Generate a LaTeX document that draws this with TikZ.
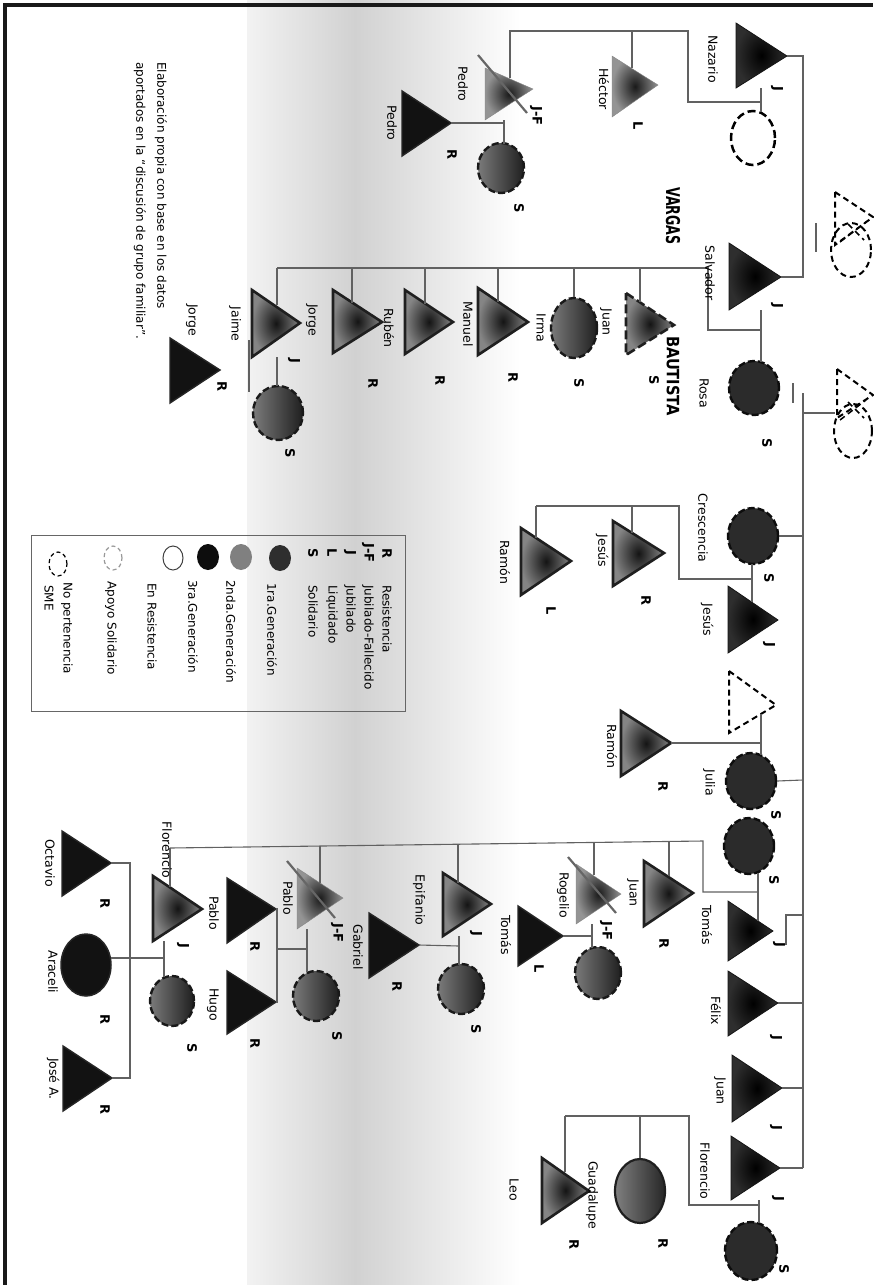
\documentclass[tikz,border=0pt]{standalone}
\usepackage{fontspec}
\usepackage{graphicx}
\setmainfont{DejaVu Sans}
\usetikzlibrary{shapes.geometric}
\begin{document}
\begin{tikzpicture}[x=1pt,y=-1pt,
  lnk/.style={draw=black!62,line width=1.1pt},
  nm/.style={rotate=-90,font=\fontsize{12.5}{13}\selectfont,inner sep=0pt},
  cd/.style={rotate=-90,font=\fontsize{13}{13}\selectfont\bfseries,inner sep=0pt},
  lg/.style={rotate=-90,anchor=west,font=\fontsize{12}{13}\selectfont,inner sep=0pt},
  t1/.style={shading=radial,inner color=black,outer color=black!82,draw=black!92,line width=0.8pt},
  t2/.style={shading=radial,inner color=black!92,outer color=black!48,draw=black!88,line width=2.6pt},
  t3/.style={fill=black!93,draw=black!85,line width=1.4pt},
  tj/.style={shading=radial,inner color=black!90,outer color=black!42,draw=black!48,line width=0.4pt},
  tb/.style={t2,dash pattern=on 9pt off 4pt},
  slash/.style={draw=black!60,line width=2.2pt},
  c1/.style={ellipse,inner sep=0pt,fill=black!83,draw=black!95,line width=2.4pt,dash pattern=on 7pt off 3pt},
  c2/.style={ellipse,inner sep=0pt,left color=black!52,right color=black!88,draw=black!90,line width=2.4pt,dash pattern=on 7pt off 3pt},
  cdash/.style={draw=black,line width=2pt,dash pattern=on 6pt off 4pt}
]
\useasboundingbox (0,0) rectangle (873,1285);
% background band
\shade[left color=black!5,right color=black!18] (247,0) rectangle (355,1285);
\shade[left color=black!18,right color=white] (355,0) rectangle (520,1285);
% frame
\draw[line width=4pt,black!90] (5,1285) -- (5,5) -- (873,5);

% ---------------- unknown parents (top right)
\path[cdash] (835,192) coordinate (p1t) -- (873,217) -- (835,245) -- cycle;
\node[ellipse,inner sep=0pt,minimum width=40pt,minimum height=54pt,cdash] (p1c) at (851,250) {};
\draw[cdash,line width=1.5pt] (840,242) -- (866,222);
\draw[cdash,line width=1.5pt] (848,224) -- (864,240);
\draw[lnk] (816,223) -- (816,252);
\path[cdash] (837,369) coordinate (p2t) -- (873,395) -- (837,418) -- cycle;
\node[ellipse,inner sep=0pt,minimum width=38pt,minimum height=54pt,cdash] (p2c) at (853,431) {};
\draw[cdash,line width=1.5pt] (840,420) -- (866,400);
\draw[cdash,line width=1.5pt] (848,402) -- (864,418);
\draw[lnk] (793,383) -- (793,403);

% ---------------- generation 1 : Nazario / Salvador
\path[t1] (736,23) -- (787,56) coordinate (naz) -- (736,88) -- cycle;
\node[ellipse,inner sep=0pt,minimum width=44pt,minimum height=54pt,draw=black,line width=2.5pt,dash pattern=on 8pt off 4pt] (nazw) at (753,138) {};
\path[t1] (729,243) -- (781,277) coordinate (sal) -- (729,310) -- cycle;
\node[c1,minimum width=50pt,minimum height=54pt] (rosa) at (754,388) {};
\draw[lnk] (naz) -- (803,56) |- (sal);

% Nazario children
\path[tj] (612,56) -- (658,85) -- (612,117) -- cycle;
\path[tj] (485,68) -- (533,89) -- (485,120) -- cycle;
\draw[slash] (478,55) -- (527,113);
\node[c2,minimum width=46pt,minimum height=50pt] (pedw) at (501,168) {};
\path[t3] (402,91) -- (451,123) coordinate (pedc) -- (402,156) -- cycle;
\draw[lnk] (761,88) -- (761,112);
\draw[lnk] (761,102) -- (688,102) -- (688,31) -- (510,31) -- (510,78);
\draw[lnk] (632,31) -- (632,68);
\draw[lnk] (504,120) -- (504,144);
\draw[lnk] (504,123) -- (pedc);

% Salvador children
\draw[lnk] (761,310) -- (761,362);
\draw[lnk] (761,330) -- (708,330) -- (708,268) -- (277,268);
\path[tb] (626,293) -- (674,325) -- (626,355) -- cycle;
\node[c2,minimum width=46pt,minimum height=60pt] (irma) at (574,328) {};
\path[t2] (478,288) -- (528,322) -- (478,355) -- cycle;
\path[t2] (405,290) -- (453,322) -- (405,354) -- cycle;
\path[t2] (333,290) -- (382,322) -- (333,353) -- cycle;
\path[t2] (252,290) -- (300,323) -- (252,357) -- cycle;
\node[c2,minimum width=50pt,minimum height=54pt] (jaimw) at (278,413) {};
\path[t3] (170,338) -- (220,370) -- (170,403) -- cycle;
\draw[lnk] (640,268) -- (640,302);
\draw[lnk] (574,268) -- (irma.north);
\draw[lnk] (498,268) -- (498,302);
\draw[lnk] (425,268) -- (425,304);
\draw[lnk] (352,268) -- (352,303);
\draw[lnk] (277,268) -- (277,305);
\draw[lnk] (277,357) -- (277,386);
\draw[lnk] (249,340) -- (249,392);

% ---------------- generation 1 : second sibling group
\draw[lnk] (803,393) -- (803,1168);
\draw[lnk] (803,413) -- (835,413);
\node[c1,minimum width=50pt,minimum height=56pt] (cres) at (753,536) {};
\draw[lnk] (cres.east) -- (803,536);
\path[t1] (728,586) -- (778,620) -- (728,653) -- cycle;
\draw[lnk] (752,564) -- (752,602);
\draw[lnk] (752,579) -- (679,579) -- (679,506) -- (536,506);
\path[t2] (613,521) -- (664,553) -- (613,586) -- cycle;
\path[t2] (521,528) -- (571,561) -- (521,595) -- cycle;
\draw[lnk] (632,506) -- (632,533);
\draw[lnk] (536,506) -- (536,538);

\path[cdash] (729,671) -- (776,705) -- (729,733) -- cycle;
\node[c1,minimum width=50pt,minimum height=56pt] (julia) at (751,781) {};
\draw[lnk] (julia.east) -- (803,780);
\draw[lnk] (761,714) -- (761,755);
\path[t2] (621,711) -- (671,743) coordinate (ram2) -- (621,776) -- cycle;
\draw[lnk] (761,743) -- (ram2);

\node[c1,minimum width=50pt,minimum height=56pt] (tomw) at (749,846) {};
\path[t1] (728,901) -- (773,931) -- (728,961) -- cycle;
\draw[lnk] (803,915) -- (786,915) -- (786,945);
\draw[lnk] (758,873) -- (758,921);
\draw[lnk] (758,892) -- (703,892) -- (703,841) -- (170,848);
\path[t2] (644,861) -- (693,893) -- (644,926) -- cycle;
\path[tj] (576,864) -- (621,894) -- (576,924) -- cycle;
\draw[slash] (568,857) -- (616,913);
\node[c2,minimum width=46pt,minimum height=52pt] (rogw) at (598,973) {};
\path[t3] (518,906) -- (563,936) coordinate (toml) -- (518,966) -- cycle;
\path[t2] (443,873) -- (491,904) -- (443,936) -- cycle;
\node[c2,minimum width=46pt,minimum height=50pt] (epiw) at (461,989) {};
\path[t3] (369,913) -- (419,945) coordinate (gab) -- (369,978) -- cycle;
\path[tj] (297,868) -- (343,898) -- (297,929) -- cycle;
\draw[slash] (287,861) -- (335,918);
\node[c2,minimum width=46pt,minimum height=50pt] (pabw) at (316,996) {};
\path[t3] (227,878) -- (276,909) coordinate (pabc) -- (227,943) -- cycle;
\path[t3] (227,971) -- (276,1002) coordinate (hugo) -- (227,1034) -- cycle;
\path[t2] (153,876) -- (202,909) -- (153,941) -- cycle;
\node[c2,minimum width=44pt,minimum height=50pt] (florw) at (172,1001) {};
\path[t3] (62,831) -- (111,863) coordinate (oct) -- (62,896) -- cycle;
\node[ellipse,inner sep=0pt,fill=black!93,draw=black!85,line width=1.5pt,minimum width=50pt,minimum height=62pt] (arac) at (86,965) {};
\path[t3] (63,1046) -- (112,1078) coordinate (jose) -- (63,1111) -- cycle;
\draw[lnk] (669,841) -- (669,876);
\draw[lnk] (594,842) -- (594,875);
\draw[lnk] (458,844) -- (458,883);
\draw[lnk] (320,846) -- (320,883);
\draw[lnk] (170,848) -- (170,887);
\draw[lnk] (592,924) -- (592,948);
\draw[lnk] (592,936) -- (toml);
\draw[lnk] (459,936) -- (459,965);
\draw[lnk] (459,946) -- (gab);
\draw[lnk] (307,929) -- (307,972);
\draw[lnk] (307,949) -- (277,949);
\draw[lnk] (pabc) -- (277,909) -- (277,1002) -- (hugo);
\draw[lnk] (164,941) -- (164,977);
\draw[lnk] (164,958) -- (111,958);
\draw[lnk] (oct) -- (130,863) -- (130,1078) -- (jose);

\path[t1] (728,971) -- (778,1003) coordinate (felix) -- (728,1036) -- cycle;
\draw[lnk] (felix) -- (803,1003);
\path[t1] (732,1055) -- (782,1088) coordinate (juanj) -- (732,1122) -- cycle;
\draw[lnk] (juanj) -- (803,1088);
\path[t1] (731,1136) -- (780,1168) coordinate (flor) -- (731,1200) -- cycle;
\draw[lnk] (flor) -- (803,1168);
\node[c1,minimum width=52pt,minimum height=58pt] (flow) at (751,1251) {};
\draw[lnk] (759,1200) -- (759,1223);
\draw[lnk] (759,1205) -- (689,1205) -- (689,1116) -- (565,1116);
\node[ellipse,inner sep=0pt,left color=black!50,right color=black!85,draw=black!88,line width=2.2pt,minimum width=50pt,minimum height=64pt] (guad) at (640,1191) {};
\path[t2] (542,1158) -- (589,1191) -- (542,1223) -- cycle;
\draw[lnk] (640,1116) -- (guad.north);
\draw[lnk] (565,1116) -- (565,1172);

% ---------------- names
\node[nm] at (713,59) {Nazario};
\node[nm] at (604,89) {Héctor};
\node[nm] at (463,84) {Pedro};
\node[nm] at (392,123) {Pedro};
\node[nm] at (710,273) {Salvador};
\node[nm] at (704,393) {Rosa};
\node[nm] at (606,322) {Juan};
\node[nm] at (541,328) {Irma};
\node[nm] at (468,324) {Manuel};
\node[nm] at (389,328) {Rubén};
\node[nm] at (312,320) {Jorge};
\node[nm] at (235,324) {Jaime};
\node[nm] at (192,320) {Jorge};
\node[nm] at (703,528) {Crescencia};
\node[nm] at (707,620) {Jesús};
\node[nm] at (602,551) {Jesús};
\node[nm] at (505,562) {Ramón};
\node[nm] at (709,783) {Julia};
\node[nm] at (612,746) {Ramón};
\node[nm] at (707,925) {Tomás};
\node[nm] at (633,893) {Juan};
\node[nm] at (563,895) {Rogelio};
\node[nm] at (506,935) {Tomás};
\node[nm] at (419,900) {Epifanio};
\node[nm] at (358,947) {Gabriel};
\node[nm] at (288,898) {Pablo};
\node[nm] at (214,913) {Pablo};
\node[nm] at (213,1005) {Hugo};
\node[nm] at (167,850) {Florencio};
\node[nm] at (50,863) {Octavio};
\node[nm] at (53,972) {Araceli};
\node[nm] at (53,1079) {José A.};
\node[nm] at (716,1011) {Félix};
\node[nm] at (720,1091) {Juan};
\node[nm] at (705,1171) {Florencio};
\node[nm] at (592,1195) {Guadalupe};
\node[nm] at (514,1190) {Leo};
\node[rotate=-90,inner sep=0pt,font=\fontsize{19}{19}\selectfont\bfseries] at (673,216) {\scalebox{0.66}[1]{VARGAS}};
\node[rotate=-90,inner sep=0pt,font=\fontsize{17}{17}\selectfont\bfseries] at (673,376) {\scalebox{0.86}[1]{BAUTISTA}};

% ---------------- codes
\node[cd] at (777,89) {J};
\node[cd] at (638,126) {L};
\node[cd] at (536,116) {J-F};
\node[cd] at (452,155) {R};
\node[cd] at (519,208) {S};
\node[cd] at (777,306) {J};
\node[cd] at (767,443) {S};
\node[cd] at (654,380) {S};
\node[cd] at (579,383) {S};
\node[cd] at (513,377) {R};
\node[cd] at (440,380) {R};
\node[cd] at (373,383) {R};
\node[cd] at (294,361) {J};
\node[cd] at (290,453) {S};
\node[cd] at (222,386) {R};
\node[cd] at (769,578) {S};
\node[cd] at (769,645) {J};
\node[cd] at (646,600) {R};
\node[cd] at (551,611) {L};
\node[cd] at (776,815) {S};
\node[cd] at (663,786) {R};
\node[cd] at (774,880) {S};
\node[cd] at (779,945) {J};
\node[cd] at (664,943) {R};
\node[cd] at (606,931) {J-F};
\node[cd] at (539,969) {L};
\node[cd] at (476,934) {J};
\node[cd] at (476,1029) {S};
\node[cd] at (397,986) {R};
\node[cd] at (337,933) {J-F};
\node[cd] at (337,1036) {S};
\node[cd] at (255,946) {R};
\node[cd] at (255,1043) {R};
\node[cd] at (183,946) {J};
\node[cd] at (192,1048) {S};
\node[cd] at (105,903) {R};
\node[cd] at (105,1019) {R};
\node[cd] at (105,1109) {R};
\node[cd] at (776,1038) {J};
\node[cd] at (776,1128) {J};
\node[cd] at (778,1199) {J};
\node[cd] at (784,1269) {S};
\node[cd] at (663,1243) {R};
\node[cd] at (574,1244) {R};

% ---------------- caption
\node[lg,font=\fontsize{12}{13}\selectfont] at (161,62) {Elaboración propia con base en los datos};
\node[lg,font=\fontsize{12}{13}\selectfont] at (140,62) {aportados en la “discusión de grupo familiar”.};

% ---------------- legend
\node[draw=black!60,line width=0.8pt,minimum width=374pt,minimum height=176pt,inner sep=0pt] (legend) at (218,623) {};
\node[cd] at (387,553) {R};  \node[lg] at (387,585) {Resistencia};
\node[cd] at (368,553) {J-F};\node[lg] at (368,585) {Jubilado-Fallecido};
\node[cd] at (350,553) {J};  \node[lg] at (350,585) {Jubilado};
\node[cd] at (332,553) {L};  \node[lg] at (332,585) {Liquidado};
\node[cd] at (313,553) {S};  \node[lg] at (313,585) {Solidario};
\node[ellipse,inner sep=0pt,minimum width=22pt,minimum height=26pt,fill=black!82] (lg1) at (280,558) {};
\node[lg] at (272,583) {1ra.Generación};
\node[ellipse,inner sep=0pt,minimum width=22pt,minimum height=26pt,fill=black!50] (lg2) at (241,557) {};
\node[lg] at (231,580) {2nda.Generación};
\node[ellipse,inner sep=0pt,minimum width=22pt,minimum height=26pt,fill=black!95] (lg3) at (208,557) {};
\node[lg] at (193,580) {3ra.Generación};
\node[ellipse,inner sep=0pt,minimum width=20pt,minimum height=24pt,draw=black!75,line width=1pt,fill=white] (lg4) at (173,558) {};
\node[lg] at (152,583) {En Resistencia};
\node[ellipse,inner sep=0pt,minimum width=18pt,minimum height=24pt,draw=black!40,line width=1.2pt,dash pattern=on 4pt off 3pt] (lg5) at (113,558) {};
\node[lg] at (111,581) {Apoyo Solidario};
\node[ellipse,inner sep=0pt,minimum width=18pt,minimum height=24pt,draw=black,line width=1.2pt,dash pattern=on 4pt off 3pt] (lg6) at (58,564) {};
\node[lg] at (67,582) {No pertenencia};
\node[lg] at (49,585) {SME};
\end{tikzpicture}
\end{document}
